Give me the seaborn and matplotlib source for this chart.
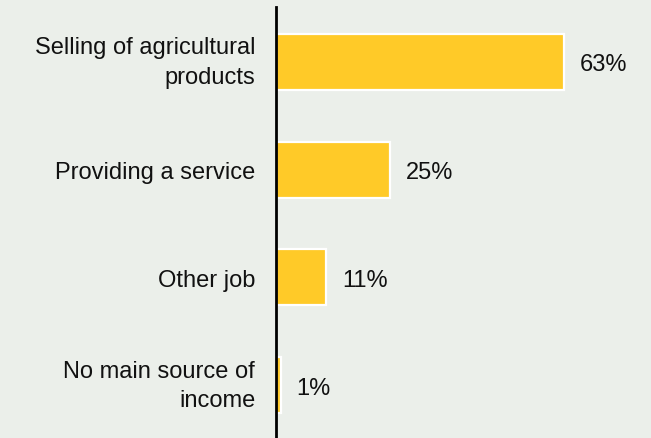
import matplotlib
matplotlib.use("Agg")
import matplotlib.pyplot as plt
import seaborn as sns
import pandas as pd

categories = ["Selling of agricultural\nproducts", "Providing a service", "Other job",
              "No main source of\nincome"]
shares = [63, 25, 11, 1]
value_labels = ["63%", "25%", "11%", "1%"]

BG = "#EBEFEA"
BAR = "#FFCA28"

sns.set_theme(style="white")
plt.rcParams["font.family"] = ["Liberation Sans", "DejaVu Sans"]

df = pd.DataFrame({"category": categories, "share": shares})

fig = plt.figure(figsize=(6.51, 4.39), dpi=100, facecolor=BG)
ax = fig.add_axes([276 / 651, 0.0, 1 - 276 / 651, 1 - 8 / 439])
ax.set_facecolor(BG)

sns.barplot(data=df, x="share", y="category", color=BAR, saturation=1,
            width=0.52, edgecolor="white", linewidth=1.6, ax=ax)

ax.set_xlim(0, 82)
ax.set_ylim(3.49, -0.51)
ax.set_xlabel("")
ax.set_ylabel("")
ax.set_xticks([])
ax.tick_params(axis="y", length=0, pad=15, labelsize=17, labelcolor="#111111")
for lbl in ax.get_yticklabels():
    lbl.set_horizontalalignment("right")
    lbl.set_multialignment("right")
    lbl.set_linespacing(1.42)
    if "\n" in lbl.get_text():
        lbl.set_verticalalignment("center")
    else:
        lbl.set_verticalalignment("center_baseline")

for s in ["top", "right", "bottom"]:
    ax.spines[s].set_visible(False)
ax.spines["left"].set_color("black")
ax.spines["left"].set_linewidth(2)

for i, (v, t) in enumerate(zip(shares, value_labels)):
    ax.text(v + 3.5, i, t, va="center_baseline", ha="left", fontsize=17,
            color="#111111")

fig.savefig("out.png", dpi=100, facecolor=BG)
